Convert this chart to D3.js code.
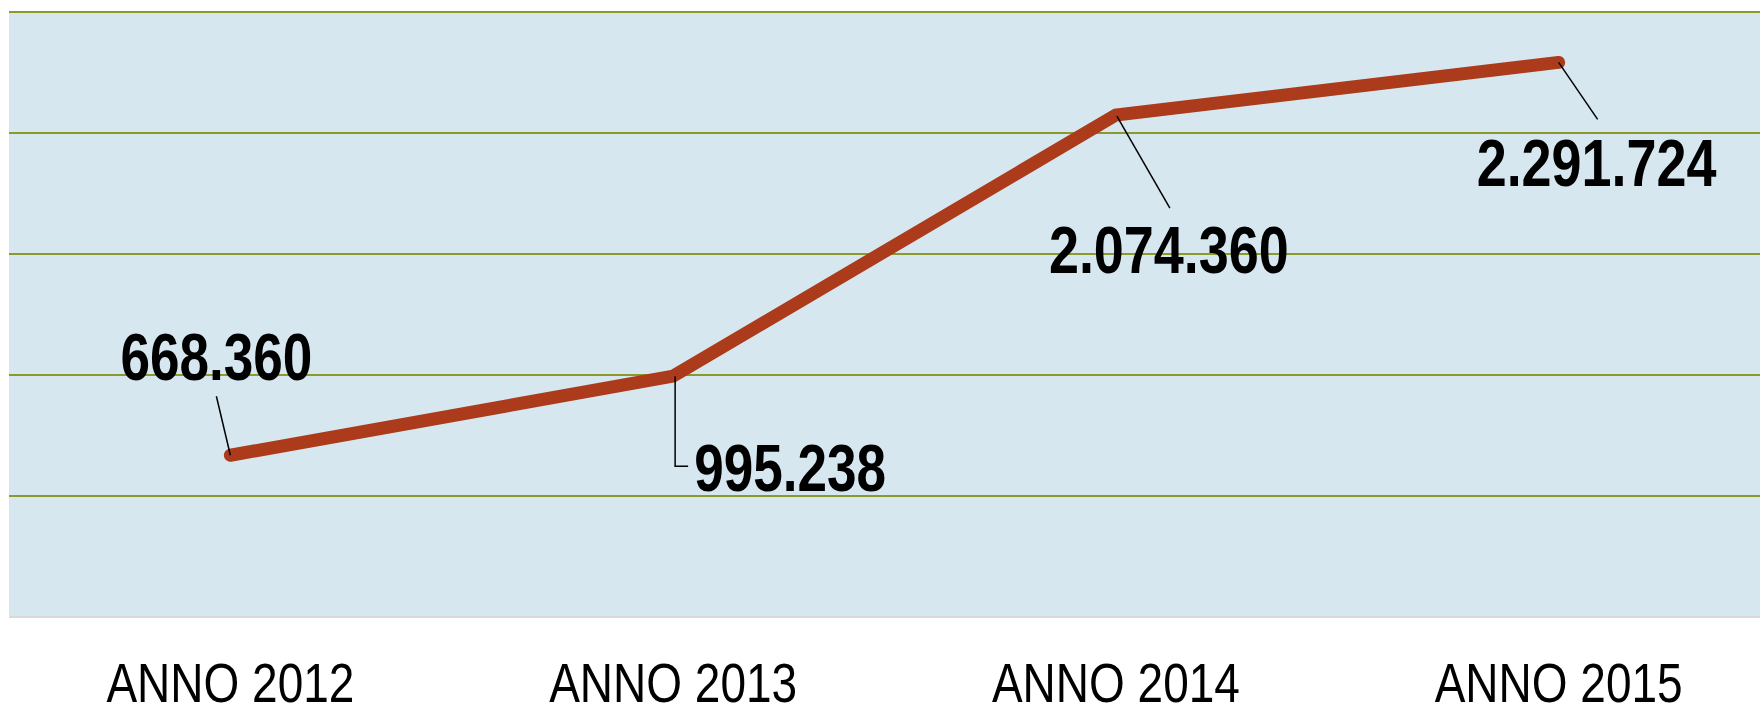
<!DOCTYPE html>
<html lang="it">
<head>
    <meta charset="UTF-8">
    <title>Andamento 2012-2015</title>
    <script src="https://d3js.org/d3.v7.min.js"></script>
    <style>
        body{ margin:0; background:#fff; }
        svg{ display:block; }
        .lbl{ font-family:"Liberation Sans Narrow","Arial Narrow","Liberation Sans",sans-serif; }
    </style>
</head>
<body>
<svg width="1760" height="707"></svg>

<script>
    // data
    const years = ["ANNO 2012","ANNO 2013","ANNO 2014","ANNO 2015"]
    const values = [668360, 995238, 2074360, 2291724]
    const valueLabels = ["668.360","995.238","2.074.360","2.291.724"]
    const gridValues = [500000, 1000000, 1500000, 2000000, 2500000]

    const plot = {left: 9, right: 1780, top: 12, bottom: 617}

    const svg = d3.select("svg")

    const x = d3.scaleBand().domain(years).range([plot.left, plot.right]).padding(0)
    const y = d3.scaleLinear().domain([0, 2500000]).range([plot.bottom, plot.top])
    const cx = d => x(d) + x.bandwidth()/2

    // plot background
    svg.append("rect")
        .attr("x", plot.left).attr("y", plot.top)
        .attr("width", plot.right - plot.left).attr("height", plot.bottom - plot.top)
        .attr("fill", "#d7e7f0")

    // grid lines
    svg.append("g").selectAll("line")
        .data(gridValues)
        .join("line")
        .attr("x1", plot.left).attr("x2", plot.right)
        .attr("y1", d => y(d)).attr("y2", d => y(d))
        .attr("stroke", "#8a9b2c").attr("stroke-width", 2)

    // bottom axis line + category labels
    svg.append("line")
        .attr("x1", plot.left).attr("x2", plot.right)
        .attr("y1", y(0)).attr("y2", y(0))
        .attr("stroke", "#d9d9d9").attr("stroke-width", 2)

    svg.append("g").selectAll("text")
        .data(years)
        .join("text")
        .attr("class", "lbl")
        .attr("x", d => cx(d))
        .attr("y", 702)
        .attr("text-anchor", "middle")
        .attr("font-size", 56)
        .attr("textLength", 248)
        .attr("lengthAdjust", "spacingAndGlyphs")
        .attr("fill", "#000")
        .text(d => d)

    // the line
    const pts = years.map((d,i) => [cx(d), y(values[i])])
    svg.append("path")
        .attr("d", d3.line()(pts))
        .attr("fill", "none")
        .attr("stroke", "#ab3b1a")
        .attr("stroke-width", 13)
        .attr("stroke-linecap", "round")
        .attr("stroke-linejoin", "miter")

    // data label placement (offsets from each point) and leader lines
    const labelOff = [[-14,-75],[117,115],[53,158],[38,124]]
    const leaders = [
        [[-14,-59],[0,0]],
        [[2,0],[2,90],[15,90]],
        [[1,1],[54,93]],
        [[0,0],[39,57]]
    ]
    const labelLen = [192,192,240,240]

    const ann = svg.append("g")
    pts.forEach((p,i) => {
        ann.append("path")
            .attr("d", d3.line()(leaders[i].map(o => [p[0]+o[0], p[1]+o[1]])))
            .attr("fill", "none")
            .attr("stroke", "#000")
            .attr("stroke-width", 1.5)
        ann.append("text")
            .attr("class", "lbl")
            .attr("x", p[0] + labelOff[i][0])
            .attr("y", p[1] + labelOff[i][1])
            .attr("text-anchor", "middle")
            .attr("font-size", 66)
            .attr("font-weight", "bold")
            .attr("textLength", labelLen[i])
            .attr("lengthAdjust", "spacingAndGlyphs")
            .attr("fill", "#000")
            .text(valueLabels[i])
    })
</script>
</body>
</html>
